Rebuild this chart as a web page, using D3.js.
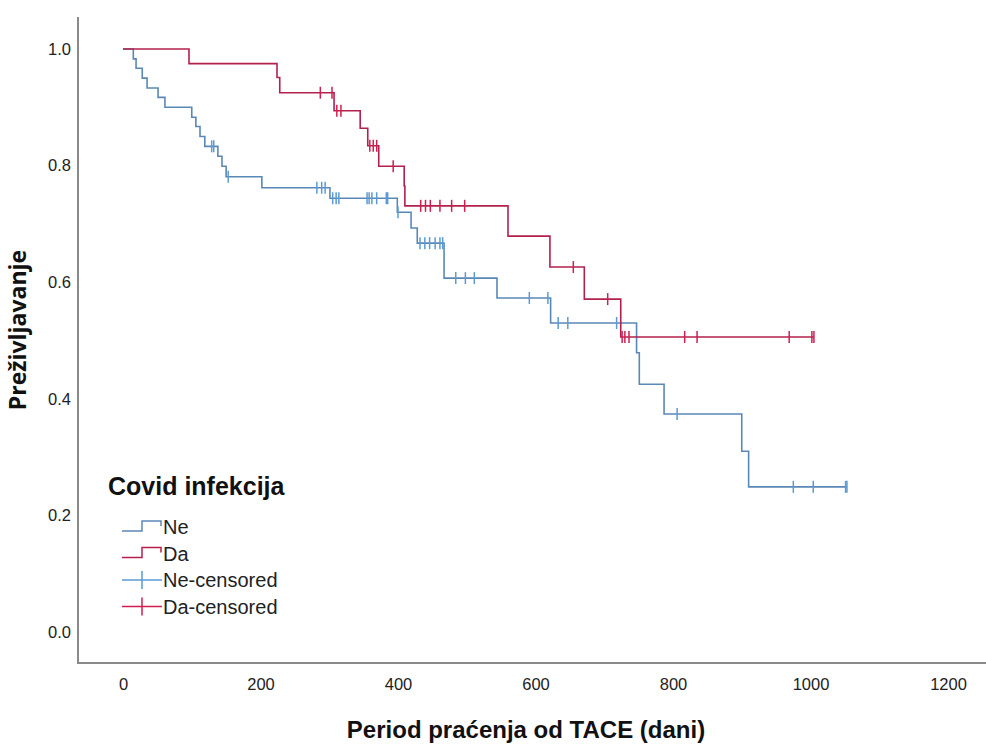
<!DOCTYPE html>
<html>
<head>
<meta charset="utf-8">
<script src="https://cdn.jsdelivr.net/npm/d3@7"></script>
<style>
  body { margin: 0; background: #fff; }
  svg { display: block; }
</style>
</head>
<body>
<div id="chart"></div>
<script>
// Kaplan-Meier steps: [time (dani), survival after the drop]
const neSteps = [
  [15, 0.983], [19, 0.967], [28, 0.950], [35, 0.933], [51, 0.917], [61, 0.900],
  [100, 0.883], [106, 0.867], [112, 0.850], [119, 0.833], [138, 0.816], [144, 0.799],
  [150, 0.781], [202, 0.762], [301, 0.744], [399, 0.720], [419, 0.693], [428, 0.667],
  [467, 0.607], [544, 0.573], [622, 0.530], [747, 0.479], [751, 0.425], [787, 0.374],
  [900, 0.310], [910, 0.249]
];
const neCensored = [129, 132, 153, 282, 289, 294, 305, 310, 314, 355, 358, 362, 369, 383, 385,
  400, 432, 439, 446, 454, 461, 465, 484, 498, 511, 591, 618, 633, 647, 718, 806, 975, 1004, 1051, 1053];

const daSteps = [
  [96, 0.975], [224, 0.951], [228, 0.925], [307, 0.894], [345, 0.864], [356, 0.834],
  [372, 0.799], [409, 0.765], [410, 0.731], [560, 0.679], [621, 0.626], [671, 0.571],
  [724, 0.506]
];
const daCensored = [287, 304, 311, 317, 359, 364, 369, 393, 433, 440, 447, 461, 478, 497,
  655, 705, 726, 730, 736, 817, 835, 969, 1002, 1005];

const xTicks = [0, 200, 400, 600, 800, 1000, 1200];
const yTicks = [0, 0.2, 0.4, 0.6, 0.8, 1.0];

const groups = [
  { name: "Ne", steps: neSteps, censored: neCensored, line: "#5a88b6", mark: "#5b9bd5" },
  { name: "Da", steps: daSteps, censored: daCensored, line: "#b3204c", mark: "#cf1f50" }
];

const width = 986, height = 744;
const FONT = "Arial, 'Liberation Sans', sans-serif";

const svg = d3.select("#chart").append("svg")
  .attr("width", width)
  .attr("height", height);

const x = d3.scaleLinear().domain([0, 1200]).range([123, 948]);
const y = d3.scaleLinear().domain([0, 1]).range([632, 49]);

// frame (left + bottom only)
svg.append("path")
  .attr("d", "M78,17V663H986")
  .attr("fill", "none")
  .attr("stroke", "#8a8a8a")
  .attr("stroke-width", 2);

// axes, ticks hidden
const xAxis = svg.append("g")
  .attr("transform", "translate(0,674)")
  .call(d3.axisBottom(x).tickValues(xTicks).tickSize(0).tickPadding(4).tickFormat(d3.format("d")));
xAxis.select(".domain").remove();
xAxis.selectAll("text")
  .style("font", "16.5px " + FONT)
  .attr("fill", "#222");

const yAxis = svg.append("g")
  .attr("transform", "translate(71,0)")
  .call(d3.axisLeft(y).tickValues(yTicks).tickSize(0).tickPadding(0).tickFormat(d3.format(".1f")));
yAxis.select(".domain").remove();
yAxis.selectAll("text")
  .style("font", "16.5px " + FONT)
  .attr("fill", "#222");

// survival curves
const line = d3.line()
  .x(d => x(d[0]))
  .y(d => y(d[1]))
  .curve(d3.curveStepAfter);

function survivalAt(steps, t) {
  let s = 1;
  steps.forEach(st => { if (st[0] <= t) s = st[1]; });
  return s;
}

groups.forEach(g => {
  const end = d3.max(g.censored.concat(g.steps.map(d => d[0])));
  const pts = [[0, 1]].concat(g.steps, [[end, survivalAt(g.steps, end)]]);

  svg.append("path")
    .attr("d", line(pts))
    .attr("fill", "none")
    .attr("stroke", g.line)
    .attr("stroke-width", 1.6);

  svg.append("g")
    .selectAll("line")
    .data(g.censored)
    .join("line")
    .attr("x1", d => x(d))
    .attr("x2", d => x(d))
    .attr("y1", d => y(survivalAt(g.steps, d)) - 6)
    .attr("y2", d => y(survivalAt(g.steps, d)) + 6)
    .attr("stroke", g.mark)
    .attr("stroke-width", 1.5);
});

// axis titles
svg.append("text")
  .attr("x", 526)
  .attr("y", 738)
  .attr("text-anchor", "middle")
  .style("font", "bold 24px " + FONT)
  .attr("fill", "#111")
  .text("Period praćenja od TACE (dani)");

svg.append("text")
  .attr("transform", "translate(26,330) rotate(-90)")
  .attr("text-anchor", "middle")
  .style("font", "bold 23px 'Open Sans', sans-serif")
  .attr("fill", "#111")
  .text("Preživljavanje");

// legend
const legend = svg.append("g");
legend.append("text")
  .attr("x", 108)
  .attr("y", 495)
  .style("font", "bold 25px " + FONT)
  .attr("fill", "#111")
  .text("Covid infekcija");

const legendItems = [
  { label: "Ne", color: groups[0].line, kind: "step" },
  { label: "Da", color: groups[1].line, kind: "step" },
  { label: "Ne-censored", color: groups[0].mark, kind: "cross" },
  { label: "Da-censored", color: groups[1].mark, kind: "cross" }
];

legendItems.forEach((it, i) => {
  const by = 534 + i * 26.5;
  const cy = by - 7;
  if (it.kind === "step") {
    legend.append("path")
      .attr("d", `M122,${cy + 4}H142V${cy - 6}H161V${cy - 1}`)
      .attr("fill", "none")
      .attr("stroke", it.color)
      .attr("stroke-width", 1.5);
  } else {
    legend.append("path")
      .attr("d", `M122,${cy}H162M142,${cy - 9}V${cy + 9}`)
      .attr("fill", "none")
      .attr("stroke", it.color)
      .attr("stroke-width", 1.5);
  }
  legend.append("text")
    .attr("x", 163)
    .attr("y", by)
    .style("font", "20px " + FONT)
    .attr("fill", "#222")
    .text(it.label);
});
</script>
</body>
</html>
